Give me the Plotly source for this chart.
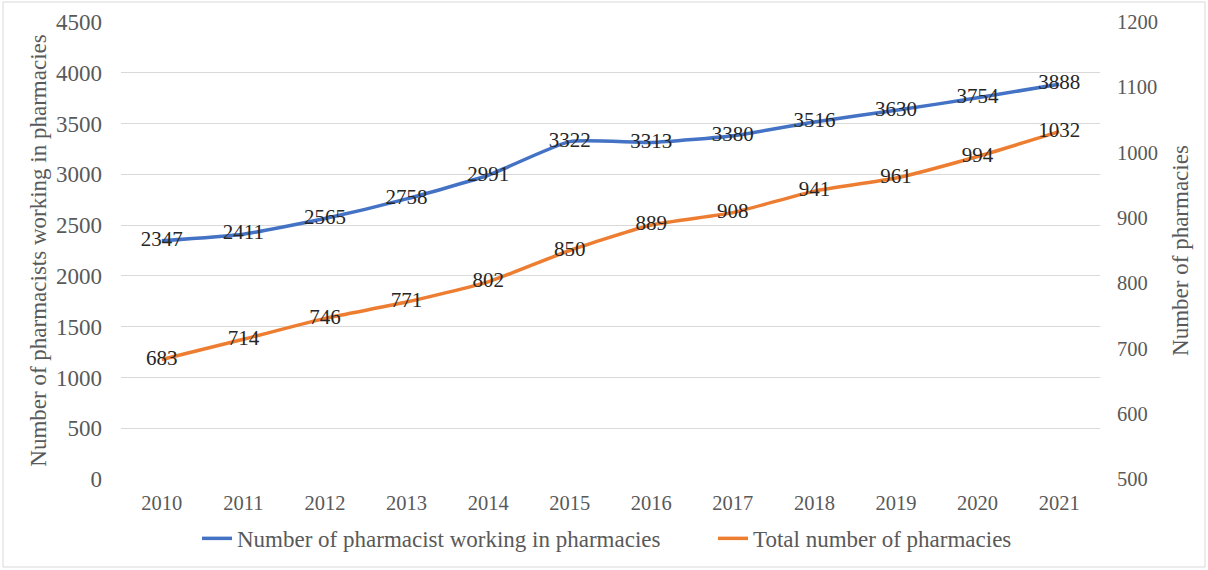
import plotly.graph_objects as go

years = ["2010", "2011", "2012", "2013", "2014", "2015",
         "2016", "2017", "2018", "2019", "2020", "2021"]
pharmacists = [2347, 2411, 2565, 2758, 2991, 3322, 3313, 3380, 3516, 3630, 3754, 3888]
pharmacies = [683, 714, 746, 771, 802, 850, 889, 908, 941, 961, 994, 1032]

left_ticks = [0, 500, 1000, 1500, 2000, 2500, 3000, 3500, 4000, 4500]
right_ticks = [500, 600, 700, 800, 900, 1000, 1100, 1200]

SERIF = "Liberation Serif"
BLUE = "#4472C4"
ORANGE = "#ED7D31"
GRID = "#D9D9D9"
TICK = "#595959"
LABEL = "#262626"

W, H = 1208, 570
ML, MR, MT, MB = 121, 108, 22, 91
PW, PH = W - ML - MR, H - MT - MB

fig = go.Figure()
fig.add_trace(go.Scatter(
    x=years, y=pharmacists, mode="lines+text",
    name="Number of pharmacist working in pharmacies",
    line=dict(color=BLUE, width=3.5, shape="spline", smoothing=0.5),
    text=[str(v) for v in pharmacists], textposition="middle center",
    textfont=dict(family=SERIF, size=21, color=LABEL),
    yaxis="y", legend="legend",
))
fig.add_trace(go.Scatter(
    x=years, y=pharmacies, mode="lines+text",
    name="Total number of pharmacies",
    line=dict(color=ORANGE, width=3.5, shape="spline", smoothing=0.5),
    text=[str(v) for v in pharmacies], textposition="middle center",
    textfont=dict(family=SERIF, size=21, color=LABEL),
    yaxis="y2", legend="legend2",
))

# light frame around the whole chart
fig.add_shape(
    type="rect", xref="paper", yref="paper",
    x0=(3 - ML) / PW, x1=(1205 - ML) / PW,
    y0=(MT + PH - 567) / PH, y1=(MT + PH - 2) / PH,
    line=dict(color=GRID, width=1), fillcolor="rgba(0,0,0,0)", layer="below",
)

legend_style = dict(
    orientation="h", xanchor="left", y=-0.13, yanchor="middle",
    font=dict(family=SERIF, size=23, color=TICK),
    bgcolor="rgba(0,0,0,0)",
)

fig.update_layout(
    width=W, height=H,
    margin=dict(l=ML, r=MR, t=MT, b=MB, autoexpand=False),
    paper_bgcolor="white", plot_bgcolor="white",
    font=dict(family=SERIF, color=TICK),
    showlegend=True,
    legend=dict(x=(197 - ML) / PW, **legend_style),
    legend2=dict(x=(713 - ML) / PW, **legend_style),
    xaxis=dict(
        type="category", range=[-0.5, 11.5], autorange=False,
        showgrid=False, zeroline=False,
        showline=False, ticks="",
        tickfont=dict(family=SERIF, size=20.5, color=TICK),
        ticklabelstandoff=9,
    ),
    yaxis=dict(
        range=[0, 4500], autorange=False, tickvals=left_ticks,
        showgrid=True, gridcolor=GRID, gridwidth=1.3, zeroline=False,
        tickfont=dict(family=SERIF, size=23, color=TICK),
        ticklabelstandoff=18,
        title=dict(text="Number of pharmacists working in pharmacies",
                   font=dict(family=SERIF, size=23, color=TICK), standoff=2),
    ),
    yaxis2=dict(
        range=[500, 1200], autorange=False, tickvals=right_ticks,
        overlaying="y", side="right",
        showgrid=False, zeroline=False,
        tickfont=dict(family=SERIF, size=20.5, color=TICK),
        ticklabelstandoff=16,
        title=dict(text="Number of pharmacies",
                   font=dict(family=SERIF, size=23, color=TICK), standoff=14),
    ),
)

fig.write_html("out.html")
